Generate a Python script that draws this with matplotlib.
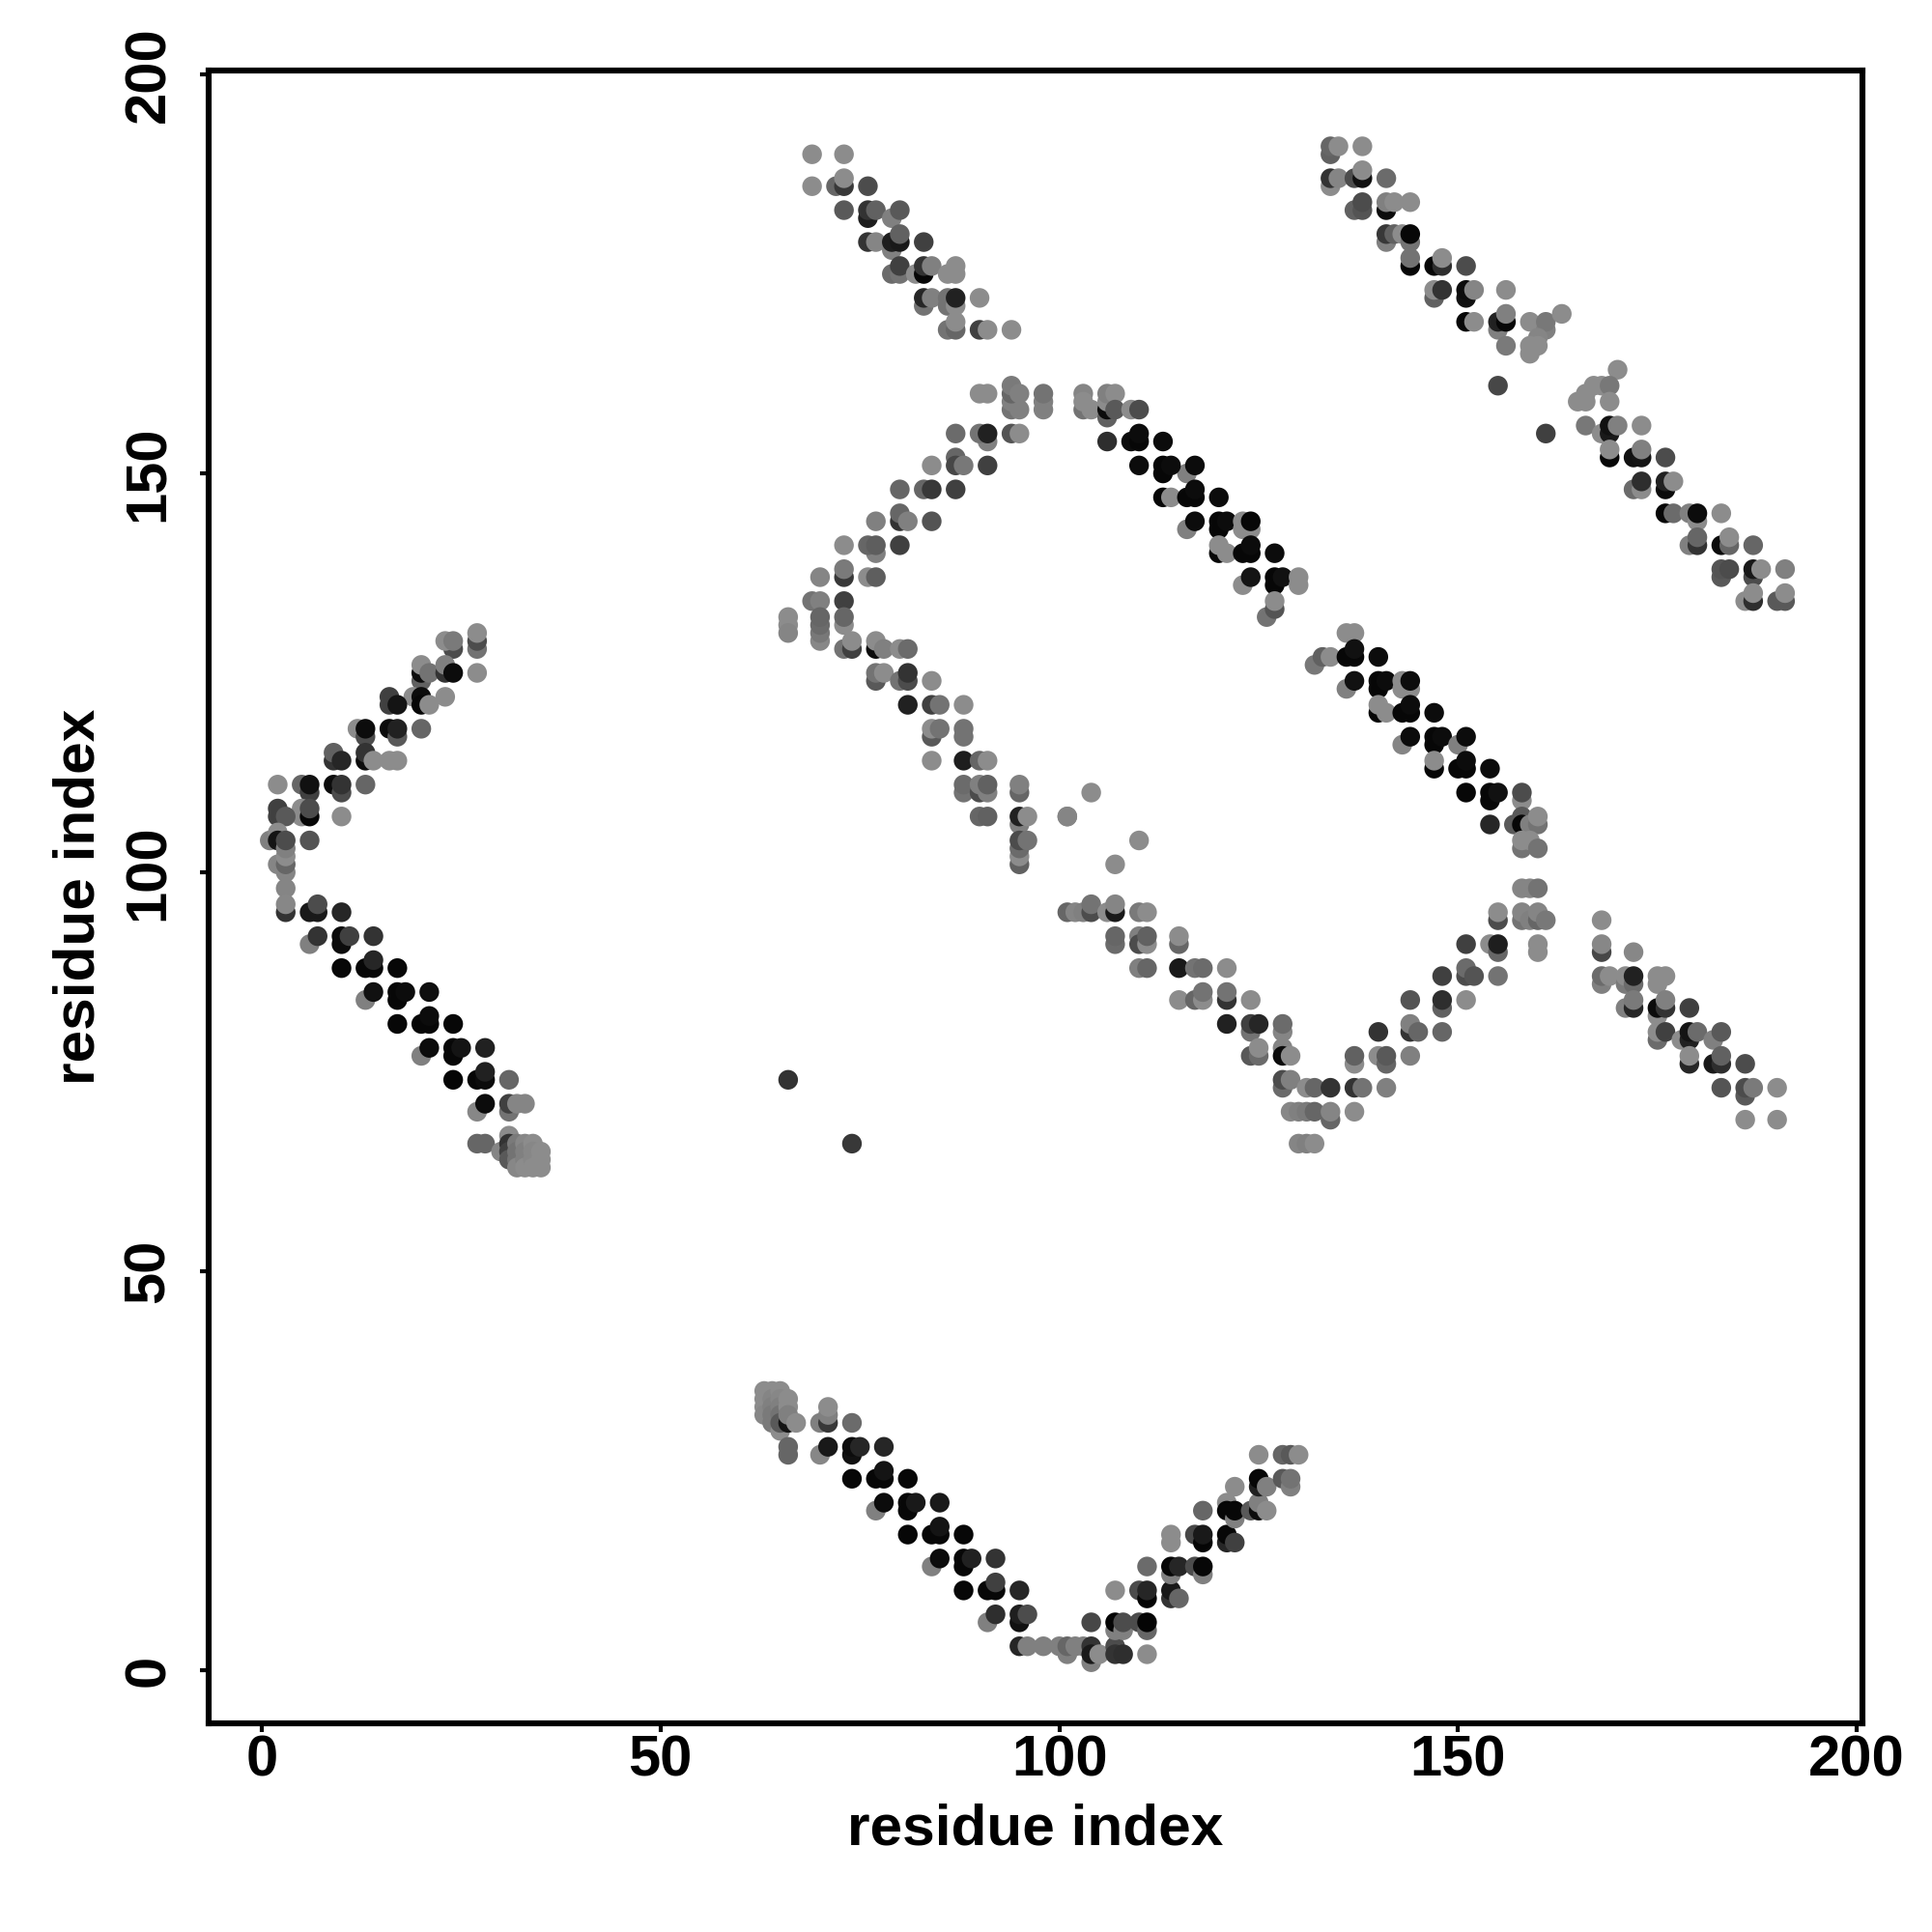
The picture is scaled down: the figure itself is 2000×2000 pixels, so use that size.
import numpy as np
import matplotlib
matplotlib.use("Agg")
import matplotlib.pyplot as plt

plt.rcParams['font.family'] = ['Liberation Sans', 'DejaVu Sans']

# contacts as (residue i, residue j, shade), later entries sit on top
left_arm = [(27,128,.45),(27,129,.3),(27,130,.55),(24,128,.3),(23,129,.55),(24,129,.48),(27,125,.55),
    (20,124,.38),(20,125,.05),(20,126,.55),(21,125,.45),(23,125,.2),(23,126,.5),(24,125,.05),(23,122,.55),
    (19,122,.55),(20,122,.05),(20,121,.03),(21,121,.55),(16,122,.25),(16,121,.25),(17,121,.08),(20,118,.4),
    (12,118,.55),(13,117,.3),(13,118,.05),(16,118,.05),(17,117,.35),(17,118,.13),(13,114,.05),(13,115,.2),
    (14,114,.55),(16,114,.55),(17,114,.55),(9,114,.2),(9,115,.38),(10,114,.15),(13,111,.4),(9,111,.05),
    (10,110,.3),(10,111,.2),(5,111,.4),(6,110,.25),(6,111,.07),(2,111,.55),(10,107,.55),(5,108,.55),
    (5,107,.55),(6,107,.03),(6,108,.3),(2,108,.25),(2,107,.25),(3,107,.35),(6,104,.33),(1,104,.5),(2,105,.55),
    (2,104,.08),(2,101,.52),(3,100,.52),(3,101,.4),(3,102,.55),(3,103,.5),(3,104,.3),(3,98,.52),(3,95,.2),
    (3,96,.53),(6,95,.1),(7,95,.1),(7,96,.3),(10,95,.15),(6,91,.5),(7,92,.2),(10,91,.05),(10,92,.05),
    (11,92,.25),(14,92,.2),(10,88,.03),(13,88,.03),(14,88,.03),(14,89,.15),(17,88,.03),(13,84,.5),(14,85,.07),
    (17,84,.03),(17,85,.03),(18,85,.05),(21,85,.06),(17,81,.03),(20,81,.03),(21,81,.03),(21,82,.05),(24,81,.03),
    (20,77,.5),(21,78,.05),(24,77,.03),(24,78,.03),(25,78,.08),(28,78,.13),(24,74,.02),(27,74,.03),(28,74,.05),
    (28,75,.13),(31,74,.4),(27,70,.53),(28,71,.05),(31,70,.45),(31,71,.25),(32,71,.52),(33,71,.52),(27,66,.4),
    (28,66,.4),(31,67,.55),(30,65,.52),(31,66,.2),(31,65,.25),(31,64,.35),(32,66,.48),(32,65,.45),(32,64,.45),
    (32,63,.53),(33,66,.53),(33,65,.5),(33,64,.5),(33,63,.55),(34,66,.55),(34,65,.53),(34,64,.53),(34,63,.55),
    (35,65,.55),(35,64,.55),(35,63,.55)]

bottom_arm = [(63,35,.55),(63,34,.55),(63,33,.55),(63,32,.53),(64,35,.55),(64,34,.52),(64,33,.5),(64,32,.48),
    (64,31,.48),(65,30,.55),(65,35,.55),(65,34,.53),(65,33,.5),(65,32,.45),(65,31,.35),(66,31,.08),(66,34,.55),
    (66,33,.55),(66,32,.5),(67,31,.55),(70,31,.5),(71,31,.22),(71,32,.5),(71,33,.55),(74,31,.42),(66,27,.4),
    (66,28,.4),(70,27,.53),(71,28,.1),(74,27,.07),(74,28,.05),(75,28,.15),(78,28,.15),(74,24,.03),(77,24,.03),
    (78,24,.03),(78,25,.08),(81,24,.03),(77,20,.5),(78,21,.05),(81,20,.03),(81,21,.03),(82,21,.1),(85,21,.1),
    (81,17,.03),(84,17,.03),(85,17,.03),(85,18,.08),(88,17,.03),(84,13,.5),(85,14,.05),(88,13,.03),(88,14,.03),
    (89,14,.13),(92,14,.2),(88,10,.03),(91,10,.03),(92,10,.03),(92,11,.25),(95,10,.15),(91,6,.5),(92,7,.18),
    (95,6,.07),(95,7,.12),(96,7,.3),(95,3,.15),(96,3,.5),(98,3,.5),(100,3,.5),(101,2,.5),(101,3,.4),(102,3,.5),
    (103,3,.5),(104,1,.5),(104,3,.2),(104,2,.1),(105,2,.55),(104,6,.28),(107,3,.3),(107,2,.2),(108,2,.18),
    (107,5,.5),(107,6,.02),(108,5,.5),(108,6,.3),(110,6,.3),(111,5,.4),(111,6,.02),(111,2,.55),(107,10,.55),
    (110,10,.3),(111,9,.02),(111,10,.15),(114,9,.2),(114,10,.1),(115,9,.4),(111,13,.42),(114,12,.5),(114,13,.03),
    (115,13,.15),(117,13,.3),(118,12,.5),(118,13,.03),(114,16,.55),(114,17,.55),(117,17,.28),(118,16,.02),
    (118,17,.1),(121,16,.15),(121,17,.03),(122,16,.25),(118,20,.4),(121,21,.55),(121,20,.03),(122,19,.5),
    (122,20,.03),(124,20,.35),(125,20,.05),(125,21,.5),(126,20,.55),(122,23,.55),(125,23,.13),(125,24,.03),
    (126,23,.5),(128,24,.35),(129,23,.5),(129,24,.45),(125,27,.55),(128,27,.4),(129,27,.35),(130,27,.55)]

top_mid_arm = [(69,190,.55),(73,190,.55),(69,186,.55),(72,186,.4),(73,186,.22),(73,187,.55),(76,186,.3),
    (73,183,.35),(76,182,.12),(76,183,.2),(77,183,.38),(79,182,.5),(80,183,.35),(76,179,.2),(77,179,.52),
    (79,178,.5),(79,179,.12),(80,179,.1),(80,180,.38),(83,179,.25),(79,175,.42),(80,175,.45),(80,176,.25),
    (82,175,.55),(83,175,.03),(83,176,.2),(84,176,.5),(86,175,.55),(87,175,.55),(87,176,.55),(83,171,.45),
    (83,172,.15),(84,172,.5),(86,171,.45),(86,172,.45),(87,171,.55),(87,172,.13),(90,172,.55),(86,168,.45),
    (87,168,.4),(87,169,.55),(90,168,.25),(91,168,.55),(94,168,.55)]

middle_arm = [(90,160,.55),(91,160,.55),(94,158,.45),(95,158,.5),(94,159,.5),(94,160,.4),(94,161,.48),(95,160,.5),
    (98,158,.5),(98,159,.5),(98,160,.45),(87,155,.42),(91,154,.5),(90,155,.45),(91,155,.13),(94,155,.33),
    (95,155,.55),(84,151,.55),(87,152,.4),(87,151,.28),(88,151,.47),(91,151,.25),(80,148,.4),(83,148,.4),
    (84,148,.22),(87,148,.25),(77,144,.5),(80,144,.2),(80,145,.4),(81,144,.5),(84,144,.33),(73,141,.55),
    (77,140,.5),(76,141,.4),(77,141,.37),(80,141,.25),(70,137,.52),(73,137,.22),(73,138,.48),(76,137,.55),
    (77,137,.37),(69,134,.45),(70,134,.5),(73,134,.25),(66,132,.55),(66,131,.55),(66,130,.52),(70,129,.53),
    (70,130,.47),(70,131,.42),(70,132,.4),(73,131,.55),(73,132,.4),(73,128,.45),(74,128,.25),(74,129,.55),
    (77,128,.05),(77,129,.55),(78,128,.5),(80,128,.55),(81,128,.42),(77,124,.35),(77,125,.45),(78,125,.55),
    (80,124,.45),(81,124,.3),(81,125,.2),(84,124,.55),(81,121,.13),(84,121,.25),(85,121,.45),(88,121,.55),
    (84,117,.35),(84,118,.55),(85,118,.45),(88,117,.45),(88,118,.45),(84,114,.55),(88,114,.12),(90,114,.4),
    (91,114,.55),(88,110,.45),(88,111,.42),(90,110,.3),(90,111,.5),(91,110,.5),(91,111,.38),(95,110,.4),
    (95,111,.5),(90,107,.4),(91,107,.38),(95,106,.5),(95,107,.13),(96,107,.55),(101,107,.52),(95,101,.38),
    (95,102,.55),(95,103,.42),(95,104,.3),(96,104,.45)]

upper_diag = [(103,158,.45),(103,160,.52),(103,159,.55),(104,158,.55),(106,157,.38),(106,158,.05),(106,159,.55),
    (106,160,.5),(107,160,.55),(107,158,.35),(109,158,.55),(110,158,.3),(106,154,.18),(109,154,.05),(110,154,.03),
    (110,155,.05),(113,154,.05),(110,151,.05),(116,150,.5),(113,150,.03),(113,151,.03),(114,151,.05),(117,151,.05),
    (113,147,.03),(114,147,.55),(116,147,.03),(117,147,.03),(117,148,.05),(120,147,.05),(116,143,.5),(117,144,.05),
    (120,143,.03),(120,144,.03),(121,144,.05),(123,144,.55),(123,143,.55),(124,143,.55),(124,144,.03),(120,140,.03),
    (120,141,.55),(121,140,.55),(123,140,.03),(124,140,.03),(124,141,.05),(127,140,.05),(123,136,.55),(124,137,.08),
    (127,136,.03),(127,137,.03),(128,137,.07),(130,136,.55),(130,137,.55),(126,132,.45),(127,133,.33),(127,134,.55)]

lower_diag = [(136,130,.55),(137,130,.55),(132,126,.47),(133,127,.38),(134,127,.55),(136,127,.03),(137,127,.03),
    (137,128,.07),(140,127,.05),(136,123,.5),(137,124,.07),(140,123,.03),(140,124,.03),(141,124,.05),(143,123,.55),
    (143,124,.55),(144,123,.55),(144,124,.05),(140,120,.03),(140,121,.55),(141,120,.55),(143,120,.03),(144,120,.03),
    (144,121,.05),(147,120,.05),(143,116,.52),(144,117,.05),(147,116,.03),(147,117,.03),(148,117,.05),(150,116,.5),
    (151,117,.05),(147,113,.03),(147,114,.55),(150,113,.03),(151,113,.03),(151,114,.05),(154,113,.05),(151,110,.03),
    (154,109,.03),(154,110,.03),(155,110,.07),(158,109,.55),(158,110,.3),(154,106,.15),(157,106,.35),(158,107,.35),
    (158,106,.03),(159,106,.5),(160,106,.45),(160,107,.55),(158,103,.45),(158,104,.55),(159,104,.55),(160,103,.45)]

top_right_arm = [(134,190,.38),(134,191,.4),(135,191,.55),(138,191,.55),(134,186,.55),(134,187,.2),(135,187,.52),
    (137,187,.3),(138,187,.07),(138,188,.55),(141,187,.42),(137,183,.38),(138,183,.33),(138,184,.3),(141,183,.05),
    (141,184,.5),(142,184,.55),(144,184,.55),(141,179,.5),(141,180,.22),(142,180,.38),(143,180,.55),(144,179,.45),
    (144,180,.03),(144,176,.03),(144,177,.45),(147,176,.03),(148,176,.18),(148,177,.55),(151,176,.3),(147,172,.38),
    (147,173,.55),(148,173,.2),(151,172,.07),(151,173,.05),(152,173,.52),(156,173,.55),(151,169,.03),(152,169,.55),
    (155,168,.5),(155,169,.13),(156,169,.03),(156,170,.5),(156,166,.48),(159,169,.55),(161,168,.5),(161,169,.47),
    (160,167,.52),(159,165,.55),(159,166,.55),(160,166,.55),(163,170,.55),(170,163,.55),(167,161,.55),(168,161,.55),
    (169,161,.47),(166,160,.55),(165,159,.55),(166,159,.55),(169,159,.55),(166,156,.47),(168,155,.55),(169,155,.1),
    (169,156,.07),(170,156,.5),(173,156,.55),(169,152,.03),(169,153,.55),(172,152,.07),(173,152,.08),(173,153,.5),
    (176,152,.3),(172,148,.42),(173,148,.55),(173,149,.18),(176,148,.05),(176,149,.13),(177,149,.55),(176,145,.03),
    (177,145,.42),(179,145,.5),(180,144,.55),(180,145,.05),(183,145,.55),(179,141,.5),(180,141,.2),(180,142,.4),
    (183,141,.05),(184,141,.4),(184,142,.55),(187,141,.4),(183,137,.35),(183,138,.33),(184,138,.3),(187,137,.3),
    (187,138,.1),(188,138,.55),(191,138,.5),(186,134,.55),(187,134,.18),(187,135,.55),(190,134,.35),(191,134,.35),
    (191,135,.55)]

lower_vee = [(101,95,.4),(102,95,.52),(103,95,.5),(104,95,.3),(104,96,.45),(106,95,.55),(107,95,.1),(107,96,.52),
    (110,95,.48),(111,95,.55),(107,91,.42),(107,92,.4),(110,92,.5),(110,91,.3),(111,91,.55),(111,92,.38),(115,91,.4),
    (115,92,.55),(110,88,.5),(111,88,.4),(115,88,.1),(117,88,.45),(118,88,.42),(121,88,.55),(115,84,.55),(117,84,.4),
    (118,84,.55),(118,85,.45),(121,84,.2),(121,85,.45),(124,84,.55),(121,81,.13),(124,80,.45),(124,81,.25),(125,81,.15),
    (128,80,.52),(128,81,.42),(124,77,.35),(125,77,.42),(125,78,.55),(128,78,.52),(128,77,.05),(129,77,.55),(128,73,.42),
    (128,74,.3),(129,74,.5),(131,73,.55),(132,73,.4),(134,73,.2),(137,73,.2),(138,73,.45),(141,73,.5),(129,70,.53),
    (130,70,.5),(131,70,.48),(132,70,.4),(134,69,.4),(134,70,.52),(137,70,.55),(130,66,.52),(131,66,.5),(132,66,.55),
    (137,76,.55),(137,77,.38),(140,77,.55),(141,76,.4),(141,77,.35),(144,77,.5),(140,80,.2),(144,80,.2),(144,81,.5),
    (145,80,.4),(148,80,.4),(144,84,.33),(148,83,.38),(148,84,.18),(151,84,.55),(148,87,.25),(151,87,.3),(151,88,.42),
    (152,87,.33),(155,87,.45),(151,91,.25),(154,91,.55),(155,90,.4),(155,91,.12),(155,94,.3),(155,95,.55),(158,94,.45),
    (158,95,.52),(159,94,.5),(160,94,.4),(160,95,.52),(161,94,.47),(160,90,.55),(160,91,.55),(158,98,.52),(159,98,.52),
    (160,98,.45)]

right_arm = [(168,94,.55),(168,90,.28),(168,91,.53),(172,90,.53),(168,86,.5),(168,87,.42),(169,87,.55),(171,86,.48),
    (171,87,.55),(172,86,.42),(172,87,.13),(175,86,.55),(175,87,.55),(176,87,.55),(171,83,.5),(172,83,.15),(172,84,.48),
    (175,82,.55),(175,83,.05),(176,83,.2),(176,84,.5),(179,83,.25),(175,79,.42),(175,80,.55),(176,80,.25),(178,79,.55),
    (179,79,.13),(179,80,.08),(180,80,.42),(182,79,.5),(183,80,.35),(179,76,.15),(179,77,.55),(182,76,.1),(183,76,.18),
    (183,77,.38),(186,76,.3),(183,73,.33),(186,72,.35),(186,73,.3),(187,73,.48),(190,73,.55),(186,69,.55),(190,69,.55)]

isolated = [(66,74,.2),(74,66,.22),(155,161,.28),(161,155,.25),(101,107,.52),(104,110,.55),(107,101,.55),(110,104,.55)]

groups = [left_arm, bottom_arm, top_mid_arm, middle_arm, upper_diag, lower_diag,
          top_right_arm, lower_vee, right_arm, isolated]

tick_values = [0, 50, 100, 150, 200]

fig = plt.figure(figsize=(20, 20), dpi=100)
ax = fig.add_axes([216/2000, 1 - 1784/2000, (1928 - 216)/2000, (1784 - 73)/2000])

for group in groups:
    pts = np.array(group)
    ax.scatter(pts[:, 0], pts[:, 1], c=pts[:, 2], cmap='gray', vmin=0, vmax=1, s=215, linewidths=0)

ax.set_xlim(-6.66, 200.7)
ax.set_ylim(-6.66, 200.5)
ax.set_xticks(tick_values)
ax.set_yticks(tick_values)

for spine in ax.spines.values():
    spine.set_linewidth(4.4)

ax.tick_params(axis='x', length=6.5, width=3, pad=1.5, labelsize=43)
ax.tick_params(axis='y', length=6.5, width=3, pad=18, labelsize=43)
for lab in ax.get_xticklabels() + ax.get_yticklabels():
    lab.set_fontweight('bold')
for lab in ax.get_yticklabels():
    lab.set_rotation(90)
    lab.set_va('center')

ax.set_xlabel("residue index", fontsize=43.5, fontweight='bold', va='center')
ax.set_ylabel("residue index", fontsize=43.5, fontweight='bold', va='center')
ax.xaxis.set_label_coords(0.5, -0.0645)
ax.yaxis.set_label_coords(-0.0785, 0.5)

fig.savefig("out.png", dpi=100, facecolor='white')
